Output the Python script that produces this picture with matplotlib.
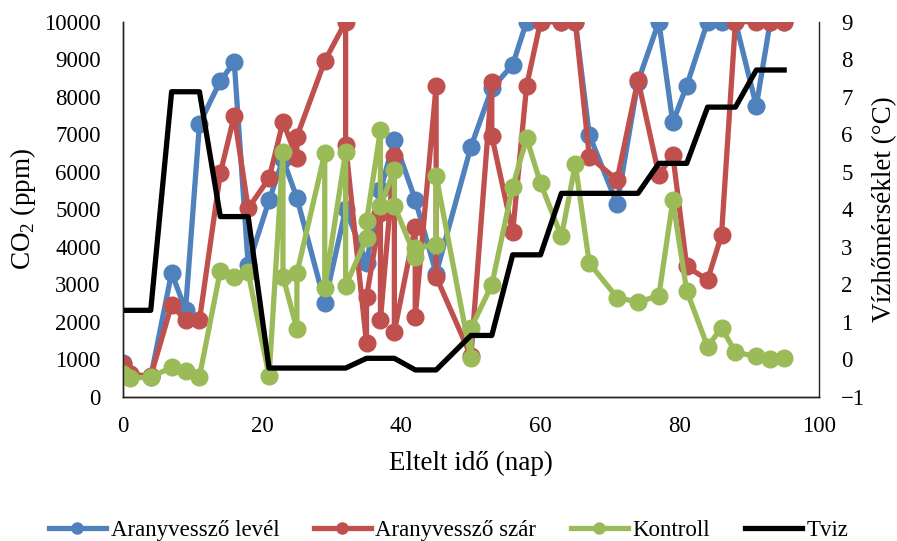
import matplotlib
matplotlib.use("Agg")
import matplotlib.pyplot as plt
from matplotlib.lines import Line2D

plt.rcParams["font.family"] = ["Liberation Serif", "DejaVu Serif"]
plt.rcParams["mathtext.fontset"] = "custom"
plt.rcParams["mathtext.rm"] = "Liberation Serif"

# Aranyvessző levél
level_x = [0, 1, 4, 7, 9, 11, 14, 16, 18, 21, 23, 25, 29, 32, 35, 37, 39, 42, 45,
           50, 53, 56, 58, 60, 63, 65, 67, 71, 74, 77, 79, 81, 84, 86, 88, 91, 93, 95]
level_y = [900, 600, 520, 3300, 2310, 7270, 8420, 8920, 3500, 5230, 6330, 5300, 2500,
           5000, 3570, 5510, 6840, 5250, 3280, 6660, 8220, 8850, 10000, 10000, 10000,
           10000, 6980, 5130, 8400, 10000, 7310, 8290, 10000, 10000, 10000, 7750, 10000, 10000]

# Aranyvessző szár
szar_x = [0, 1, 4, 7, 9, 11, 14, 16, 18, 21, 23, 25, 25, 29, 32, 32, 35, 35, 37, 37,
          39, 39, 42, 42, 45, 45, 50, 53, 53, 56, 58, 60, 63, 65, 67, 71, 74, 77, 79,
          81, 84, 86, 88, 91, 93, 95]
szar_y = [870, 600, 540, 2450, 2030, 2030, 5960, 7490, 5020, 5820, 7330, 6360, 6930,
          8950, 10000, 6710, 1420, 2650, 4890, 2040, 6410, 1730, 4530, 2130, 8290, 3200,
          1080, 8400, 6950, 4380, 8290, 10000, 10000, 10000, 6400, 5780, 8450, 5910, 6450,
          3470, 3110, 4310, 10000, 10000, 10000, 10000]

# Kontroll
kontroll_x = [0, 1, 4, 7, 9, 11, 14, 16, 18, 21, 23, 23, 25, 25, 29, 29, 32, 32, 35, 35,
              37, 37, 39, 39, 42, 42, 45, 45, 50, 50, 53, 56, 58, 60, 63, 65, 67, 71, 74,
              77, 79, 81, 84, 86, 88, 91, 93, 95]
kontroll_y = [600, 490, 520, 780, 670, 530, 3360, 3180, 3310, 550, 6530, 3200, 1800, 3290,
              6490, 2890, 6530, 2950, 4220, 4670, 7110, 5090, 6040, 5090, 3730, 3960, 4050,
              5890, 1020, 1820, 2980, 5600, 6890, 5690, 4270, 6200, 3560, 2640, 2520, 2690,
              5230, 2820, 1330, 1840, 1180, 1070, 1010, 1020]

# Tviz (jobb tengely)
tviz_x = [0, 1, 4, 7, 9, 11, 14, 16, 18, 21, 23, 25, 29, 32, 35, 37, 39, 42, 45,
          50, 53, 56, 58, 60, 63, 65, 67, 71, 74, 77, 79, 81, 84, 86, 88, 91, 93, 95]
tviz_y = [1.3, 1.3, 1.3, 7.13, 7.13, 7.13, 3.8, 3.8, 3.8, -0.24, -0.24, -0.24, -0.24,
          -0.24, 0.02, 0.02, 0.02, -0.29, -0.29, 0.63, 0.63, 2.78, 2.78, 2.78, 4.42,
          4.42, 4.42, 4.42, 4.42, 5.22, 5.22, 5.22, 6.72, 6.72, 6.72, 7.71, 7.71, 7.71]

c_blue = "#4F81BD"
c_red = "#C0504D"
c_green = "#9BBB59"

fig = plt.figure(figsize=(8.97, 5.41), dpi=100)
ax = fig.add_axes([0.137, 0.267, 0.776, 0.693])
ax2 = ax.twinx()

lw = 3.8
ms = 12
ax.plot(level_x, level_y, color=c_blue, lw=lw, marker="o", ms=ms, zorder=2)
ax.plot(szar_x, szar_y, color=c_red, lw=lw, marker="o", ms=ms, zorder=3)
ax.plot(kontroll_x, kontroll_y, color=c_green, lw=lw, marker="o", ms=ms, zorder=4)
ax2.plot(tviz_x, tviz_y, color="black", lw=lw)

ax.set_xlim(0, 100)
ax.set_ylim(0, 10000)
ax2.set_ylim(-1, 9)
ax.set_xticks(range(0, 101, 20))
ax.set_yticks(range(0, 10001, 1000))
ax2.set_yticks(range(-1, 10))

for a in (ax, ax2):
    a.tick_params(axis="y", length=0, labelsize=16.5, pad=16)
    a.spines["top"].set_visible(False)
    for s in ("left", "right", "bottom"):
        a.spines[s].set_color("#222222")
        a.spines[s].set_linewidth(1.0)
ax.tick_params(axis="x", length=0, labelsize=16.5, pad=14)
ax.spines["right"].set_visible(False)

ax.set_xlabel("Eltelt idő (nap)", fontsize=19.5, labelpad=10)
ax.set_ylabel(r"CO$_\mathrm{2}$ (ppm)", fontsize=19.5, labelpad=4)
ax2.set_ylabel("Vízhőmérséklet (°C)", fontsize=19.5, labelpad=5)

handles = [
    Line2D([], [], color=c_blue, lw=lw, marker="o", ms=8),
    Line2D([], [], color=c_red, lw=lw, marker="o", ms=8),
    Line2D([], [], color=c_green, lw=lw, marker="o", ms=8),
    Line2D([], [], color="black", lw=lw),
]
labels = ["Aranyvessző levél", "Aranyvessző szár", "Kontroll", "Tviz"]
fig.legend(handles, labels, loc="center", bbox_to_anchor=(0.5, 0.02), ncol=4,
           frameon=False, fontsize=16.5, handlelength=2.5, handletextpad=0.2,
           columnspacing=1.5)

fig.savefig("out.png", dpi=100)
